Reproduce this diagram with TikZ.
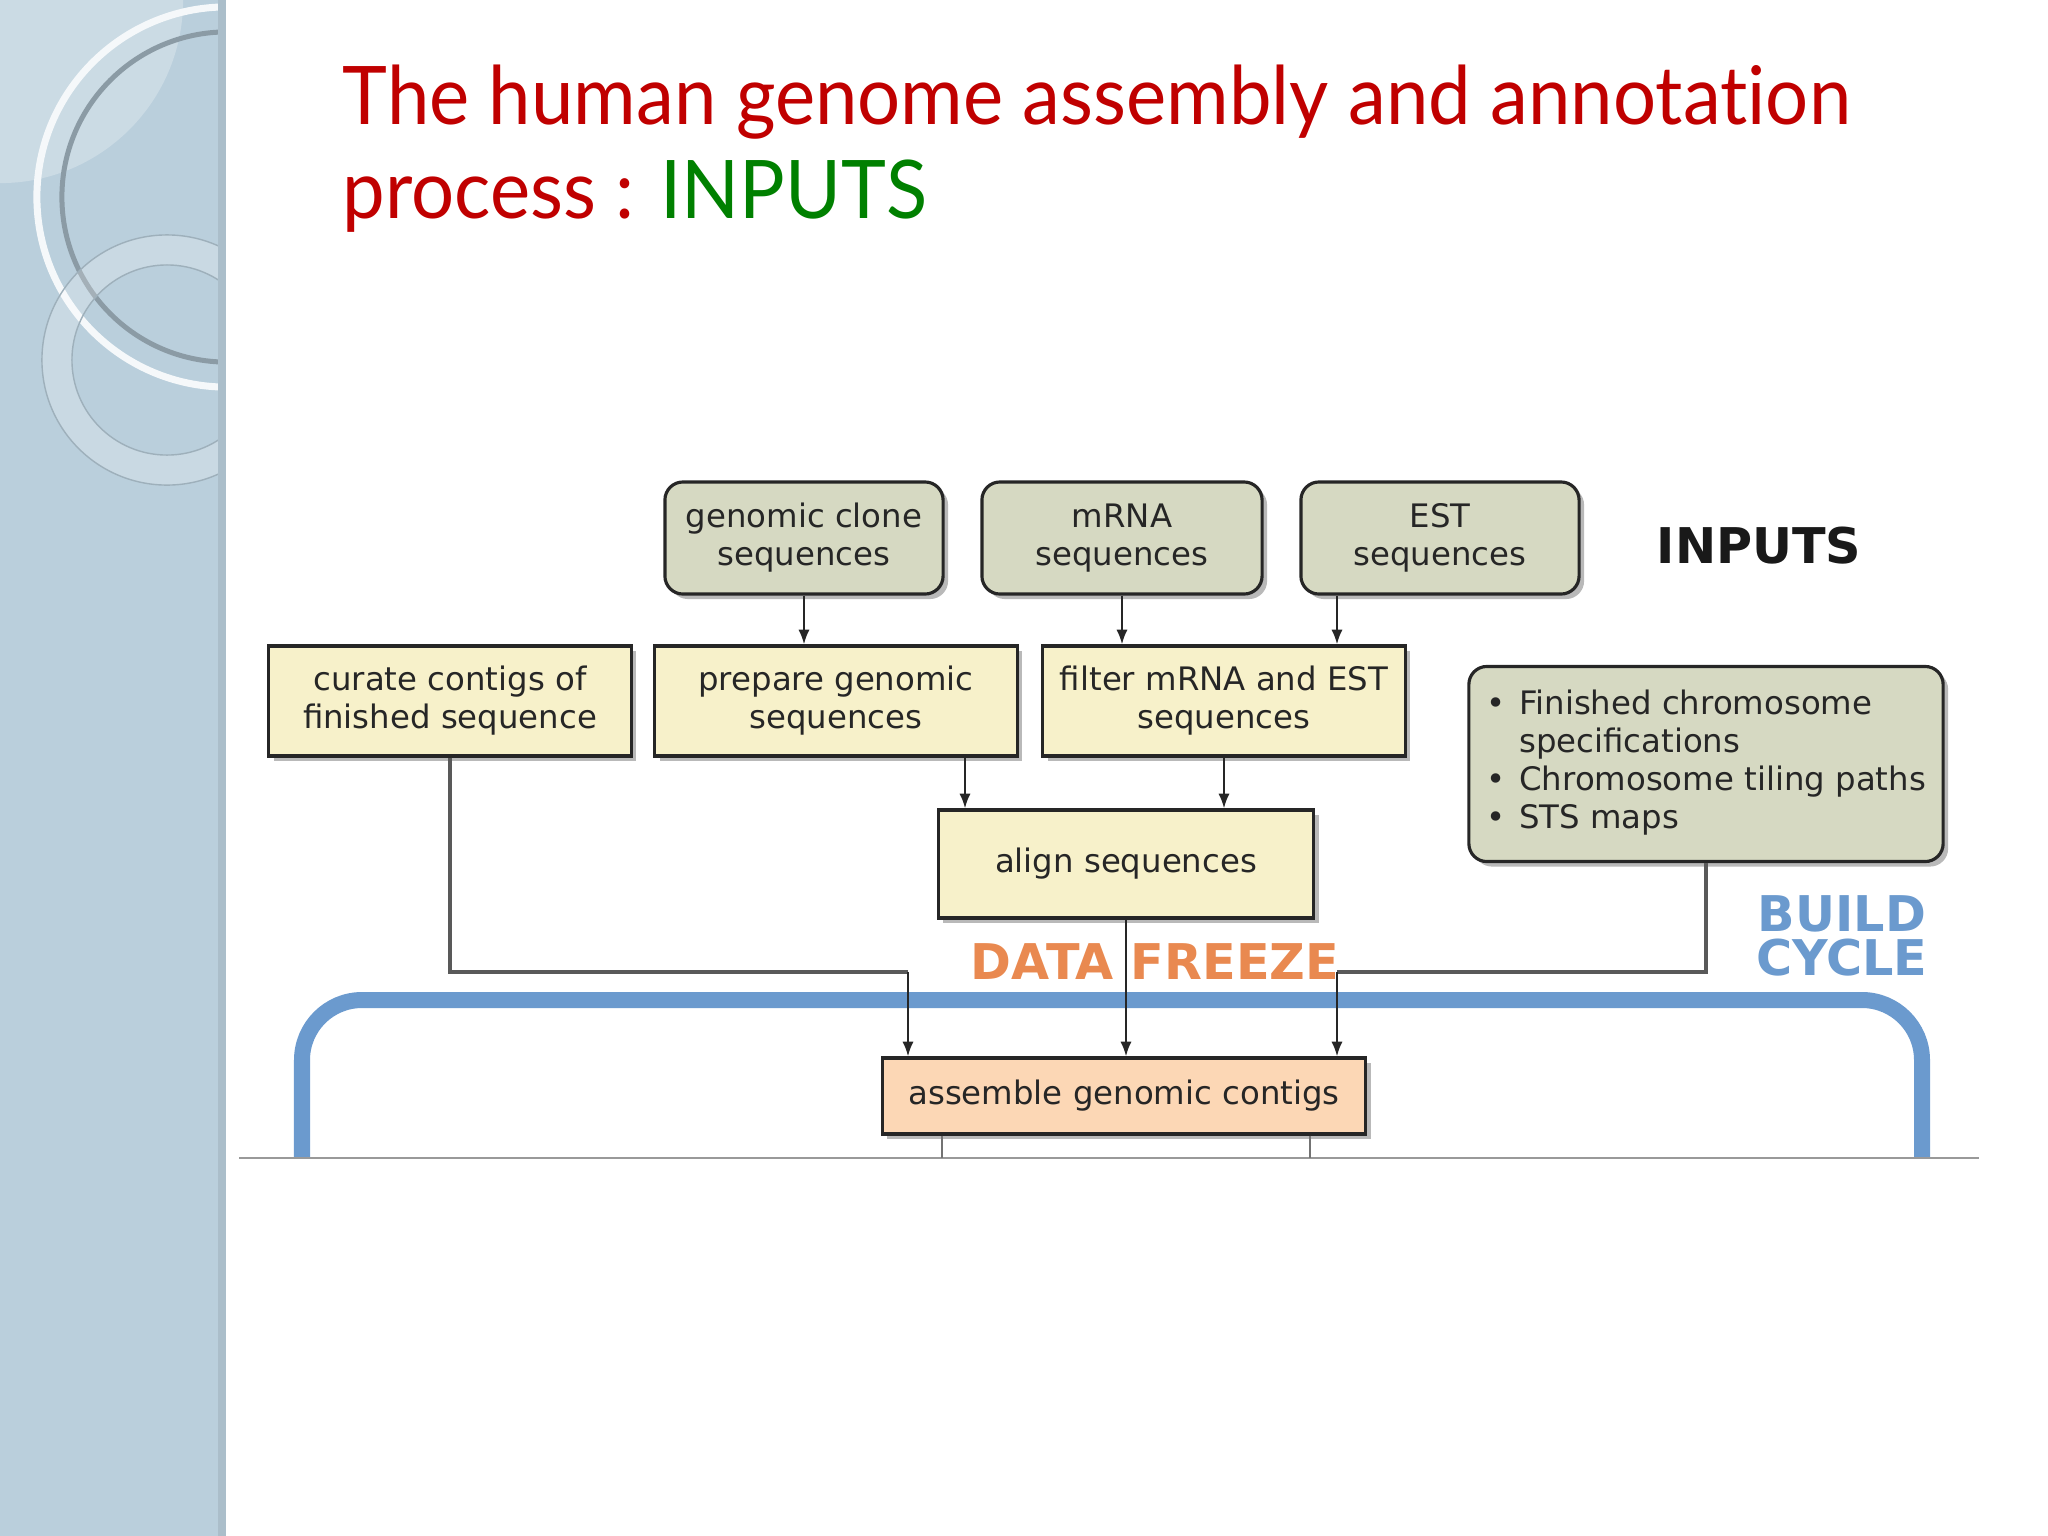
\documentclass[tikz,border=0pt]{standalone}
\usepackage{fontspec}
\setmainfont{DejaVu Sans}
\newfontfamily\titlefont[Ligatures=NoCommon, FakeStretch=0.94]{Lato}
\usetikzlibrary{arrows.meta,shadows}

\definecolor{titlered}{RGB}{192,0,0}
\definecolor{titlegreen}{RGB}{0,128,0}
\definecolor{inputfill}{RGB}{214,217,194}
\definecolor{stepfill}{RGB}{247,241,202}
\definecolor{asmfill}{RGB}{252,215,181}
\definecolor{freezeorange}{RGB}{233,137,80}
\definecolor{cycleblue}{RGB}{107,154,206}
\definecolor{sidebar}{RGB}{186,207,220}

\newcommand{\diagtext}{\fontsize{9.2}{10.8}\selectfont}
\newcommand{\bigword}{\fontsize{14}{12.5}\selectfont\bfseries}

\begin{document}
\begin{tikzpicture}[
    x=0.01cm, y=-0.01cm,
    box/.style={draw=black!85, line width=0.9pt, align=center, font=\diagtext, text=black!85,
        drop shadow={shadow xshift=0.05cm, shadow yshift=-0.05cm, fill=black!55, opacity=0.5}},
    inbox/.style={box, fill=inputfill, rounded corners=0.18cm, minimum width=2.78cm, minimum height=1.12cm},
    stepbox/.style={box, fill=stepfill, minimum width=3.62cm, minimum height=1.1cm},
    arr/.style={-{Latex[length=4.2pt,width=3.2pt]}, black!85, line width=0.6pt},
    feed/.style={black!65, line width=0.9pt}
]
    \useasboundingbox (0,0) rectangle (2048,1536);

    % --- Sidebar ---
    \fill[sidebar] (0,0) rectangle (226,1536);
    \begin{scope}
        \clip (0,0) rectangle (218,1536);
        \fill[white, opacity=0.25] (0,0) circle[radius=1.83cm];
        \draw[white!85!sidebar, line width=0.07cm] (227,197) circle[radius=1.9cm];
        \draw[black!25!sidebar, line width=0.05cm] (227,197) circle[radius=1.65cm];
        \fill[white, opacity=0.22, even odd rule] (167,360) circle[radius=1.25cm] (167,360) circle[radius=0.95cm];
        \draw[black!15!sidebar, line width=0.4pt] (167,360) circle[radius=1.25cm] (167,360) circle[radius=0.95cm];
    \end{scope}
    \fill[black!8!sidebar] (218,0) rectangle (226,1536);

    % --- Title ---
    \node[anchor=base west, inner sep=0, font=\titlefont\fontsize{23}{27}\selectfont, text=titlered] (title1) at (342,124) {The human genome assembly and annotation};
    \node[anchor=base west, inner sep=0, font=\titlefont\fontsize{23}{27}\selectfont, text=titlered] (title2) at (342,218) {process : \textcolor{titlegreen}{INPUTS}};

    % --- Build cycle band ---
    \draw[cycleblue, line width=0.16cm, rounded corners=0.6cm] (302,1158) -- (302,1000) -- (1922,1000) -- (1922,1158);
    \draw[black!40, line width=0.6pt] (239,1158) -- (1979,1158);

    % Inputs (top row)
    \node[inbox] (gclone) at (804,538) {genomic clone\\sequences};
    \node[inbox, minimum width=2.8cm] (mrna) at (1122,538) {mRNA\\sequences};
    \node[inbox] (est) at (1440,538) {EST\\sequences};
    \node[font=\bigword, text=black!90] (inputs) at (1759,546) {INPUTS};

    % Steps
    \node[stepbox] (curate) at (450,701) {curate contigs of\\finished sequence};
    \node[stepbox] (prep) at (836,701) {prepare genomic\\sequences};
    \node[stepbox] (filt) at (1224,701) {filter mRNA and EST\\sequences};
    \node[stepbox, minimum width=3.75cm, minimum height=1.08cm] (align) at (1126,864) {align sequences};
    \node[box, fill=inputfill, rounded corners=0.18cm, minimum width=4.74cm, minimum height=1.95cm, align=left] (specs) at (1706,764) {%
        \begin{tabular}{@{}l@{\hspace{4pt}}l@{}}
        \textbullet & Finished chromosome\\
                    & specifications\\
        \textbullet & Chromosome tiling paths\\
        \textbullet & STS maps
        \end{tabular}};
    \node[box, fill=asmfill, minimum width=4.83cm, minimum height=0.76cm] (assemble) at (1124,1096) {assemble genomic contigs};

    % Labels
    \node[font=\bigword, text=freezeorange] (freeze) at (1155,962) {DATA FREEZE};
    \node[font=\bigword, text=cycleblue, align=center] (cycle) at (1842,936) {BUILD\\CYCLE};

    % --- Arrows ---
    \coordinate (jl) at (908,972);
    \coordinate (jr) at (1337,972);
    \draw[arr] (gclone.south) -- (gclone.south |- prep.north);
    \draw[arr] (mrna.south) -- (mrna.south |- filt.north);
    \draw[arr] (jr |- est.south) -- (jr |- filt.north);
    \draw[arr] (965,0 |- prep.south) -- (965,0 |- align.north);
    \draw[arr] (filt.south) -- (filt.south |- align.north);
    \draw[arr] (align.south) -- (align.south |- assemble.north);
    \draw[feed] (curate.south) |- (jl);
    \draw[arr] (jl) -- (jl |- assemble.north);
    \draw[feed] (specs.south) |- (jr);
    \draw[arr] (jr) -- (jr |- assemble.north);
    \draw[black!55, line width=0.5pt] (942,0 |- assemble.south) -- (942,1158);
    \draw[black!55, line width=0.5pt] (1310,0 |- assemble.south) -- (1310,1158);
\end{tikzpicture}
\end{document}
